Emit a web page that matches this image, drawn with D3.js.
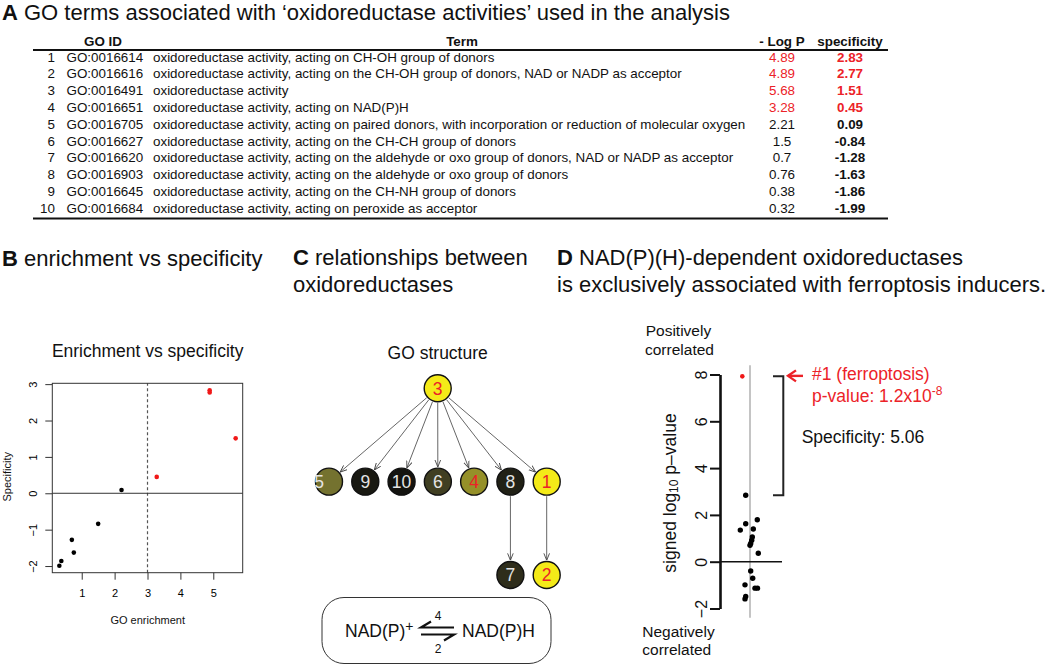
<!DOCTYPE html>
<html>
<head>
<meta charset="utf-8">
<script src="https://cdnjs.cloudflare.com/ajax/libs/d3/7.8.5/d3.min.js"></script>
<style>
  body { margin: 0; background: #fff; }
  svg { display: block; font-family: "Liberation Sans", Arial, Helvetica, sans-serif; }
</style>
</head>
<body>
<svg id="fig" width="1050" height="666"></svg>
<script>
// ---------- data: table A ----------
const goIds = ["GO:0016614", "GO:0016616", "GO:0016491", "GO:0016651", "GO:0016705",
  "GO:0016627", "GO:0016620", "GO:0016903", "GO:0016645", "GO:0016684"];
const goTerms = [
  "oxidoreductase activity, acting on CH-OH group of donors",
  "oxidoreductase activity, acting on the CH-OH group of donors, NAD or NADP as acceptor",
  "oxidoreductase activity",
  "oxidoreductase activity, acting on NAD(P)H",
  "oxidoreductase activity, acting on paired donors, with incorporation or reduction of molecular oxygen",
  "oxidoreductase activity, acting on the CH-CH group of donors",
  "oxidoreductase activity, acting on the aldehyde or oxo group of donors, NAD or NADP as acceptor",
  "oxidoreductase activity, acting on the aldehyde or oxo group of donors",
  "oxidoreductase activity, acting on the CH-NH group of donors",
  "oxidoreductase activity, acting on peroxide as acceptor"
];
const negLogP = [4.89, 4.89, 5.68, 3.28, 2.21, 1.5, 0.7, 0.76, 0.38, 0.32];
const specificity = [2.83, 2.77, 1.51, 0.45, 0.09, -0.84, -1.28, -1.63, -1.86, -1.99];
const enrichCutoff = 3;

// ---------- data: GO structure (C) ----------
const goRoot = 3;
const goLevel1 = [5, 9, 10, 6, 4, 8, 1];
const goEdges = [[3, 5], [3, 9], [3, 10], [3, 6], [3, 4], [3, 8], [3, 1], [8, 7], [1, 2]];

// ---------- data: panel D ----------
const drugSignedLogP = [7.92, 2.84, 1.79, 1.62, 1.35, 1.40, 1.06, 0.92, 0.78, 0.70,
  0.36, -0.40, -0.71, -0.99, -1.13, -1.13, -1.49, -1.59];
const drugJitter = [-0.77, -0.43, 0.73, -0.43, -0.97, 0.33, 0.23, 0.17, 0.07, 0,
  0.83, 0.07, 0.27, -0.5, 0.5, 0.75, -0.43, -0.5];
const ferroSpecificity = 5.06;

const xTicksB = [1, 2, 3, 4, 5];
const yTicksB = [-2, -1, 0, 1, 2, 3];
const yTicksD = [-2, 0, 2, 4, 6, 8];

const red = "#ec2228";
const minus = d => d < 0 ? "\u2212" + Math.abs(d) : String(d);

const svg = d3.select("#fig");
svg.append("rect").attr("width", 1050).attr("height", 666).attr("fill", "#fff");

// panel titles
function panelTitle(x, y, letter, lines) {
  lines.forEach((line, i) => {
    let t = svg.append("text")
      .attr("x", x).attr("y", y + i * 26.5)
      .attr("font-size", 22).attr("fill", "#111");
    if (i === 0) {
      t.append("tspan").attr("font-weight", "bold").text(letter);
      t.append("tspan").text(" " + line);
    } else {
      t.text(line);
    }
  });
}
panelTitle(2, 19.5, "A", ["GO terms associated with \u2018oxidoreductase activities\u2019 used in the analysis"]);
panelTitle(2, 266, "B", ["enrichment vs specificity"]);
panelTitle(293, 265, "C", ["relationships between", "oxidoreductases"]);
panelTitle(557, 265, "D", ["NAD(P)(H)-dependent oxidoreductases", "is exclusively associated with ferroptosis inducers."]);

// ****************** A: table ******************
let table = svg.append("g").attr("font-size", 13.4).attr("fill", "#111");
let rowY = d3.scaleLinear().domain([0, goIds.length - 1]).range([61.5, 212.7]);
let cols = { num: 55, id: 66.5, term: 153, logp: 782, spec: 850 };

let head = table.append("g").attr("font-weight", "bold");
head.append("text").attr("x", 103).attr("y", 45.5).attr("text-anchor", "middle").text("GO ID");
head.append("text").attr("x", 462).attr("y", 45.5).attr("text-anchor", "middle").text("Term");
head.append("text").attr("x", cols.logp).attr("y", 45.5).attr("text-anchor", "middle").text("- Log P");
head.append("text").attr("x", cols.spec).attr("y", 45.5).attr("text-anchor", "middle").text("specificity");

table.append("line").attr("x1", 33).attr("x2", 888).attr("y1", 50).attr("y2", 50)
  .attr("stroke", "#111").attr("stroke-width", 2);
table.append("line").attr("x1", 33).attr("x2", 888).attr("y1", 218.5).attr("y2", 218.5)
  .attr("stroke", "#111").attr("stroke-width", 2);

let rows = table.selectAll("g.row")
  .data(goIds.map((id, i) => ({ i, id, term: goTerms[i], p: negLogP[i], s: specificity[i] })))
  .enter().append("g").attr("class", "row")
  .attr("transform", d => "translate(0," + rowY(d.i) + ")");
rows.append("text").attr("x", cols.num).attr("text-anchor", "end").text(d => d.i + 1);
rows.append("text").attr("x", cols.id).text(d => d.id);
rows.append("text").attr("x", cols.term).text(d => d.term);
rows.append("text").attr("x", cols.logp).attr("text-anchor", "middle")
  .attr("fill", d => d.p > enrichCutoff ? red : "#111").text(d => d.p);
rows.append("text").attr("x", cols.spec).attr("text-anchor", "middle").attr("font-weight", "bold")
  .attr("fill", d => d.p > enrichCutoff ? red : "#111").text(d => d.s.toFixed(2));

// ****************** B: scatter ******************
let xB = d3.scaleLinear().domain([0.1056, 5.894]).range([52.3, 242.7]);
let yB = d3.scaleLinear().domain([-2.183, 3.023]).range([572.7, 383.3]);
let gB = svg.append("g");

gB.append("text").attr("x", 147.7).attr("y", 357).attr("text-anchor", "middle")
  .attr("font-size", 17.5).attr("fill", "#111").text("Enrichment vs specificity");

gB.append("line").attr("x1", xB(enrichCutoff)).attr("x2", xB(enrichCutoff))
  .attr("y1", yB.range()[0]).attr("y2", yB.range()[1])
  .attr("stroke", "#555").attr("stroke-width", 1.2).attr("stroke-dasharray", "3,2.5");
gB.append("line").attr("x1", xB.range()[0]).attr("x2", xB.range()[1])
  .attr("y1", yB(0)).attr("y2", yB(0)).attr("stroke", "#333").attr("stroke-width", 1);

let axB = gB.append("g").attr("transform", "translate(0," + yB.range()[0] + ")")
  .call(d3.axisBottom(xB).tickValues(xTicksB).tickSize(7).tickSizeOuter(0).tickFormat(d => d));
axB.select(".domain").remove();
axB.selectAll("text").attr("y", 24).attr("dy", "0").attr("font-size", 11).attr("font-family", null);
let ayB = gB.append("g").attr("transform", "translate(" + xB.range()[0] + ",0)")
  .call(d3.axisLeft(yB).tickValues(yTicksB).tickSize(7).tickSizeOuter(0).tickFormat(minus));
ayB.select(".domain").remove();
ayB.selectAll("text").attr("x", null).attr("dy", null).attr("text-anchor", "middle")
  .attr("font-size", 11).attr("font-family", null).attr("transform", "translate(-15,0) rotate(-90)");
gB.selectAll(".tick line").attr("stroke", "#333");

gB.append("rect").attr("x", xB.range()[0]).attr("y", yB.range()[1])
  .attr("width", xB.range()[1] - xB.range()[0]).attr("height", yB.range()[0] - yB.range()[1])
  .attr("fill", "none").attr("stroke", "#333").attr("stroke-width", 1);

gB.selectAll("circle.pt")
  .data(negLogP.map((p, i) => ({ p, s: specificity[i] })))
  .enter().append("circle").attr("class", "pt")
  .attr("cx", d => xB(d.p)).attr("cy", d => yB(d.s)).attr("r", 2.3)
  .attr("fill", d => d.p > enrichCutoff ? "#f01818" : "#000");

gB.append("text").attr("x", 147.7).attr("y", 624).attr("text-anchor", "middle")
  .attr("font-size", 11).attr("fill", "#111").text("GO enrichment");
gB.append("text").attr("transform", "translate(10.5,476.7) rotate(-90)").attr("text-anchor", "middle")
  .attr("font-size", 11).attr("fill", "#111").text("Specificity");

// ****************** C: GO structure ******************
let gC = svg.append("g");
gC.append("text").attr("x", 437.7).attr("y", 359).attr("text-anchor", "middle")
  .attr("font-size", 17.5).attr("fill", "#111").text("GO structure");

let levelY = d3.scaleLinear().domain([0, 2]).range([388.3, 575]);
let lvl1X = d3.scalePoint().domain(goLevel1).range([329, 546.7]);
let nodePos = {};
nodePos[goRoot] = { x: 437.7, y: levelY(0) };
goLevel1.forEach(n => { nodePos[n] = { x: lvl1X(n), y: levelY(1) }; });
goEdges.forEach(([a, b]) => {
  if (!nodePos[b]) nodePos[b] = { x: nodePos[a].x, y: levelY(2) };
});
let nodeR = 13.5;
let nodeFill = d3.scaleLinear().domain([-2, -1, 0, 1.5])
  .range(["#141410", "#38371f", "#6c6a30", "#f4ea18"]).clamp(true);

gC.append("defs").append("marker")
  .attr("id", "vhead").attr("viewBox", "0 0 10 10").attr("refX", 9.5).attr("refY", 5)
  .attr("markerWidth", 7).attr("markerHeight", 7).attr("markerUnits", "userSpaceOnUse")
  .attr("orient", "auto")
  .append("path").attr("d", "M0,1 L10,5 L0,9").attr("fill", "none")
  .attr("stroke", "#444").attr("stroke-width", 1.3);

gC.selectAll("line.edge").data(goEdges).enter().append("line").attr("class", "edge")
  .each(function ([a, b]) {
    let s = nodePos[a], t = nodePos[b];
    let dx = t.x - s.x, dy = t.y - s.y, len = Math.hypot(dx, dy);
    let ux = dx / len, uy = dy / len;
    d3.select(this)
      .attr("x1", s.x + ux * (nodeR + 1)).attr("y1", s.y + uy * (nodeR + 1))
      .attr("x2", t.x - ux * (nodeR + 1.5)).attr("y2", t.y - uy * (nodeR + 1.5));
  })
  .attr("stroke", "#555").attr("stroke-width", 0.9).attr("marker-end", "url(#vhead)");

let nodes = gC.selectAll("g.node")
  .data(Object.keys(nodePos).map(Number))
  .enter().append("g").attr("class", "node")
  .attr("transform", d => "translate(" + nodePos[d].x + "," + nodePos[d].y + ")");
nodes.append("circle").attr("r", nodeR)
  .attr("fill", d => nodeFill(specificity[d - 1]))
  .attr("stroke", "#111").attr("stroke-width", 1.4);
nodes.append("text")
  .attr("x", d => d === 5 ? -10 : 0)
  .attr("y", 6.3).attr("text-anchor", "middle").attr("font-size", 17.5)
  .attr("fill", d => negLogP[d - 1] > enrichCutoff ? red : "#e4e4e4")
  .text(d => d);

// reaction box
gC.append("rect").attr("x", 322).attr("y", 597.5).attr("width", 229).attr("height", 66)
  .attr("rx", 22).attr("fill", "none").attr("stroke", "#333").attr("stroke-width", 1);
let nadp = gC.append("text").attr("x", 345).attr("y", 637).attr("font-size", 17.5).attr("fill", "#111");
nadp.append("tspan").text("NAD(P)");
nadp.append("tspan").attr("dy", -6).attr("font-size", 14).text("+");
gC.append("text").attr("x", 462).attr("y", 637).attr("font-size", 17.5).attr("fill", "#111").text("NAD(P)H");
gC.append("path").attr("d", "M454,627.5 L421,627.5 L431,621.5").attr("fill", "none")
  .attr("stroke", "#111").attr("stroke-width", 2.2);
gC.append("path").attr("d", "M421,634.5 L454,634.5 L444,640.5").attr("fill", "none")
  .attr("stroke", "#111").attr("stroke-width", 2.2);
gC.append("text").attr("x", 438).attr("y", 620).attr("text-anchor", "middle")
  .attr("font-size", 12).attr("fill", "#111").text("4");
gC.append("text").attr("x", 438).attr("y", 652.5).attr("text-anchor", "middle")
  .attr("font-size", 12).attr("fill", "#111").text("2");

// ****************** D: drug strip plot ******************
let yD = d3.scaleLinear().domain([-2, 8]).range([608.5, 374.5]);
let xD = d3.scaleLinear().domain([-1, 1]).range([740, 760]);
let gD = svg.append("g");

gD.append("text").attr("x", 645.7).attr("y", 336).attr("font-size", 15.5).attr("fill", "#111").text("Positively");
gD.append("text").attr("x", 645).attr("y", 355).attr("font-size", 15.5).attr("fill", "#111").text("correlated");
gD.append("text").attr("x", 642.3).attr("y", 637).attr("font-size", 15.5).attr("fill", "#111").text("Negatively");
gD.append("text").attr("x", 642.3).attr("y", 655).attr("font-size", 15.5).attr("fill", "#111").text("correlated");

gD.append("line").attr("x1", xD(0)).attr("x2", xD(0)).attr("y1", yD(8.4)).attr("y2", yD(-2.4))
  .attr("stroke", "#c4c4c4").attr("stroke-width", 2);
gD.append("line").attr("x1", 720).attr("x2", 782).attr("y1", yD(0)).attr("y2", yD(0))
  .attr("stroke", "#111").attr("stroke-width", 1.6);

let ayD = gD.append("g").attr("transform", "translate(720,0)")
  .call(d3.axisLeft(yD).tickValues(yTicksD).tickSize(10).tickSizeOuter(0).tickFormat(minus));
ayD.select(".domain").attr("stroke", "#111").attr("stroke-width", 2.6);
ayD.selectAll(".tick line").attr("stroke", "#111").attr("stroke-width", 2);
ayD.selectAll("text").attr("x", null).attr("dy", null).attr("text-anchor", "middle")
  .attr("font-size", 16).attr("font-family", null).attr("fill", "#111")
  .attr("transform", "translate(-13,0) rotate(-90)");

let yLab = gD.append("text").attr("transform", "translate(676,493) rotate(-90)")
  .attr("text-anchor", "middle").attr("font-size", 17.5).attr("fill", "#111");
yLab.append("tspan").text("signed log");
yLab.append("tspan").attr("font-size", 12).attr("dy", 2).text("10");
yLab.append("tspan").attr("dy", -2).text(" p\u2013value");

gD.selectAll("circle.drug")
  .data(drugSignedLogP.map((v, i) => ({ v, j: drugJitter[i], i })))
  .enter().append("circle").attr("class", "drug")
  .attr("cx", d => xD(d.j)).attr("cy", d => yD(d.v)).attr("r", d => d.i === 0 ? 2.3 : 2.7)
  .attr("fill", d => d.i === 0 ? "#f01818" : "#000");

// bracket between the top compound and the next one
let topY = yD(drugSignedLogP[0]), nextY = yD(drugSignedLogP[1]);
gD.append("path").attr("d", "M773," + topY + " H783.3 V" + nextY + " H773")
  .attr("fill", "none").attr("stroke", "#222").attr("stroke-width", 2);

gD.append("line").attr("x1", 803).attr("x2", 788).attr("y1", topY - 0.5).attr("y2", topY - 0.5)
  .attr("stroke", red).attr("stroke-width", 2.4);
gD.append("path").attr("d", "M796," + (topY - 6) + " L788," + (topY - 0.5) + " L796," + (topY + 5))
  .attr("fill", "none").attr("stroke", red).attr("stroke-width", 2.4);

gD.append("text").attr("x", 812).attr("y", 380).attr("font-size", 17.5).attr("fill", red)
  .text("#1 (ferroptosis)");
let pv = gD.append("text").attr("x", 812).attr("y", 401.7).attr("font-size", 17.5).attr("fill", red);
pv.append("tspan").text("p-value: 1.2x10");
pv.append("tspan").attr("dy", -7).attr("font-size", 12).text("-8");
gD.append("text").attr("x", 801.7).attr("y", 443).attr("font-size", 17.5).attr("fill", "#111")
  .text("Specificity: " + ferroSpecificity.toFixed(2));
</script>
</body>
</html>
